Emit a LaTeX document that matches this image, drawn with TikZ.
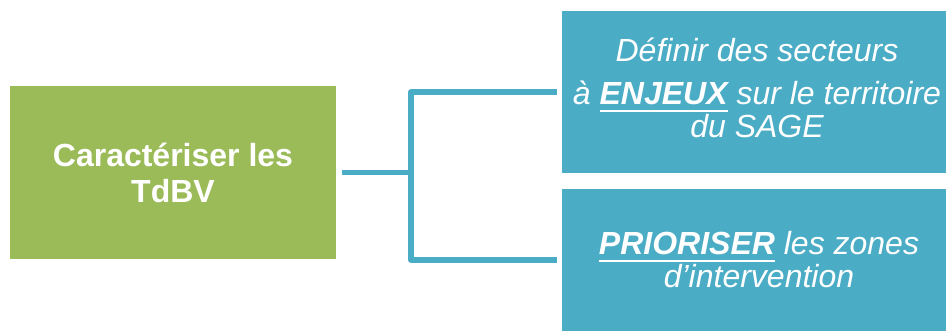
\documentclass[tikz,border=0pt]{standalone}
\usepackage{fontspec}
\setmainfont{Liberation Sans}
\definecolor{leaf}{HTML}{9BBB59}
\definecolor{aqua}{HTML}{4BACC6}
% underlined word with a solid white bar under it
\newcommand\ulword[1]{\setbox0\hbox{#1}\rlap{\rule[-7pt]{\wd0}{2.4pt}}\box0\relax}
\begin{document}
\begin{tikzpicture}[x=1pt,y=-1pt,
  box/.style={draw=none,inner sep=0pt,outer sep=0pt},
  greenbox/.style={box,fill=leaf},
  bluebox/.style={box,fill=aqua},
  boldtxt/.style={anchor=base,inner sep=0pt,text=white,font=\fontsize{32}{36}\selectfont\bfseries},
  itxt/.style={anchor=base,inner sep=0pt,text=white,font=\fontsize{32}{36}\selectfont\itshape},
  conn/.style={draw=aqua,line width=5.5pt,line join=round}]
\useasboundingbox (0,0) rectangle (946,331);

% boxes
\node[greenbox,minimum width=326pt,minimum height=173pt] (green) at (173,172.5) {};
\node[bluebox,minimum width=384pt,minimum height=162pt] (blueA) at (754,92) {};
\node[bluebox,minimum width=384pt,minimum height=142pt] (blueB) at (754,260) {};

% texts
\node[boldtxt] (g1) at (173,167) {Caractériser les};
\node[boldtxt] (g2) at (173,203) {TdBV};
\node[itxt] (a1) at (757,62) {Définir des secteurs};
\node[itxt] (a2) at (757,105) {à \ulword{\bfseries ENJEUX} sur le territoire};
\node[itxt] (a3) at (757,138) {du SAGE};
\node[itxt] (b1) at (759,255) {\ulword{\bfseries PRIORISER} les zones};
\node[itxt] (b2) at (759,288) {d’intervention};

% connectors
\coordinate (jn) at (411,172.5);
\draw[conn] ([xshift=6pt]green.east) -- (jn);
\draw[conn] ([xshift=-5pt]blueA.west) -| (jn) |- ([xshift=-5pt]blueB.west);
\end{tikzpicture}
\end{document}
